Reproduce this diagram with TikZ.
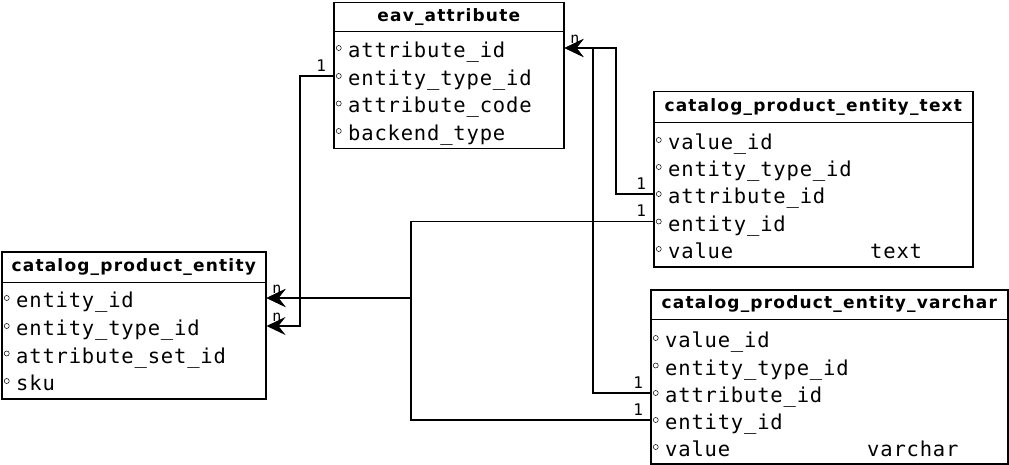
\documentclass[tikz,border=0pt]{standalone}
\usepackage{fontspec}
\newfontfamily\fieldfont[LetterSpace=4]{DejaVu Sans Mono}
\newfontfamily\headfont[LetterSpace=7]{DejaVu Sans}
\newfontfamily\cardfont{DejaVu Sans Mono}
\usetikzlibrary{arrows.meta}
\tikzset{
  tbl/.style={draw, line width=1.5pt, inner sep=0pt, anchor=north west},
  head/.style={anchor=north, inner sep=0pt, font=\headfont\bfseries\fontsize{17}{17}\selectfont},
  sep/.style={line width=1.5pt},
  fieldtext/.style={anchor=west, inner sep=0pt, text height=19pt, text depth=0pt,
    font=\fieldfont\fontsize{20.5}{20.5}\selectfont},
  circ/.style={circle, draw, inner sep=0pt, minimum size=5pt, line width=0.5pt},
  field/.style={fieldtext, label={[circ,label distance=6.5pt]left:}},
  conn/.style={line width=1.9pt, -{Stealth[length=19pt,width=18pt,inset=7pt]}},
  card/.style={inner sep=0pt, font=\cardfont\fontsize{16}{16}\selectfont},
  one/.style={card, anchor=south east, xshift=-6pt, yshift=4pt},
  many/.style={card, font=\cardfont\fontsize{15}{15}\selectfont, anchor=south west, xshift=5pt, yshift=4pt}
}
\begin{document}
\begin{tikzpicture}[x=1pt,y=-1pt]
\useasboundingbox (0,0) rectangle (1009,465);
% eav_attribute
\node[tbl, minimum width=230pt, minimum height=146pt] (eav) at (333,2) {};
\node[head, minimum height=29pt] (eavh) at (eav.north) {eav\_attribute};
\draw[sep] (eav.west |- eavh.south) -- (eav.east |- eavh.south);
\node[field] (eava) at (348,48)    {attribute\_id};
\node[field] (eavb) at (348,76)    {entity\_type\_id};
\node[field] (eavc) at (348,103.5) {attribute\_code};
\node[field] (eavd) at (348,131)   {backend\_type};
% catalog_product_entity
\node[tbl, minimum width=264pt, minimum height=147pt] (cpe) at (1,251) {};
\node[head, minimum height=31pt] (cpeh) at (cpe.north) {catalog\_product\_entity};
\draw[sep] (cpe.west |- cpeh.south) -- (cpe.east |- cpeh.south);
\node[field] (cpea) at (16,298)   {entity\_id};
\node[field] (cpeb) at (16,326)   {entity\_type\_id};
\node[field] (cpec) at (16,353.5) {attribute\_set\_id};
\node[field] (cped) at (16,381)   {sku};
% catalog_product_entity_text
\node[tbl, minimum width=319pt, minimum height=175pt] (cpet) at (653,91) {};
\node[head, minimum height=31pt] (cpeth) at (cpet.north) {catalog\_product\_entity\_text};
\draw[sep] (cpet.west |- cpeth.south) -- (cpet.east |- cpeth.south);
\node[field] (cpeta) at (668,140)   {value\_id};
\node[field] (cpetb) at (668,167)   {entity\_type\_id};
\node[field] (cpetc) at (668,194)   {attribute\_id};
\node[field] (cpetd) at (668,221.5) {entity\_id};
\node[field] (cpete) at (668,249)   {value};
\node[fieldtext] (cpett) at (870,249) {text};
% catalog_product_entity_varchar
\node[tbl, minimum width=357pt, minimum height=174pt] (cpev) at (650,289) {};
\node[head, minimum height=30pt] (cpevh) at (cpev.north) {catalog\_product\_entity\_varchar};
\draw[sep] (cpev.west |- cpevh.south) -- (cpev.east |- cpevh.south);
\node[field] (cpeva) at (665,338)   {value\_id};
\node[field] (cpevb) at (665,365.5) {entity\_type\_id};
\node[field] (cpevc) at (665,393)   {attribute\_id};
\node[field] (cpevd) at (665,420)   {entity\_id};
\node[field] (cpeve) at (665,447)   {value};
\node[fieldtext] (cpevt) at (867,447) {varchar};
% relations
\draw[conn] (eav.west |- eavb) node[one] {1} -- ++(-33,0) |- (cpe.east |- cpeb) node[many] {n};
\draw[conn] (cpet.west |- cpetc) node[one] {1} -- ++(-37,0) |- (eav.east |- eava) node[many] {n};
\draw[conn] (cpev.west |- cpevc) node[one] {1} -- ++(-57,0) |- (eav.east |- eava);
\draw[conn] (cpet.west |- cpetd) node[one] {1} -- ++(-242,0) |- (cpe.east |- cpea) node[many] {n};
\draw[conn] (cpev.west |- cpevd) node[one] {1} -- ++(-239,0) |- (cpe.east |- cpea);
\end{tikzpicture}
\end{document}
